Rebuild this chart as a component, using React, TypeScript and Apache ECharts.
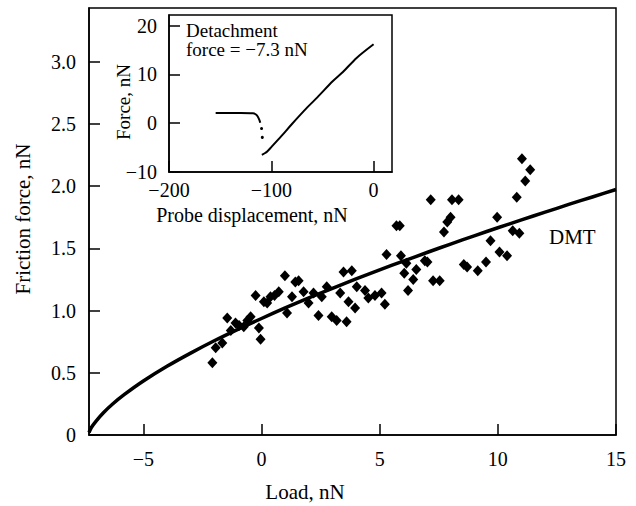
import React, { useEffect, useRef } from "react";
import * as echarts from "echarts";

// Main plot: friction force vs load (measured points)
const LOAD = [
  -2.08, -1.94, -1.66, -1.45, -1.3, -1.1, -0.95, -0.75, -0.6, -0.46, -0.25, -0.11, -0.04, 0.1, 0.24, 0.38,
  0.55, 0.73, 0.99, 1.08, 1.29, 1.43, 1.57, 1.78, 1.99, 2.2, 2.41, 2.55, 2.76, 2.97, 3.18, 3.33, 3.47, 3.6,
  3.68, 3.82, 3.96, 4.03, 4.38, 4.52, 4.8, 5.08, 5.22, 5.29, 5.71, 5.85, 5.9, 6.04, 6.13, 6.2, 6.42, 6.55,
  6.91, 7.02, 7.16, 7.26, 7.54, 7.72, 7.86, 8.0, 8.06, 8.34, 8.56, 8.7, 9.15, 9.5, 9.69, 9.97, 10.07, 10.39,
  10.63, 10.8, 10.91, 11.02, 11.16, 11.37,
];
const FRICTION = [
  0.58, 0.7, 0.74, 0.94, 0.84, 0.9, 0.88, 0.87, 0.92, 0.95, 1.12, 0.86, 0.77, 1.07, 1.06, 1.11,
  1.12, 1.15, 1.28, 0.98, 1.11, 1.23, 1.24, 1.15, 1.06, 1.14, 0.96, 1.11, 1.19, 0.95, 0.92, 1.14, 1.31, 0.91,
  1.07, 1.32, 1.02, 1.19, 1.16, 1.1, 1.12, 1.14, 1.05, 1.45, 1.68, 1.68, 1.44, 1.3, 1.38, 1.16, 1.25, 1.33,
  1.4, 1.39, 1.89, 1.24, 1.24, 1.63, 1.71, 1.75, 1.89, 1.89, 1.37, 1.35, 1.32, 1.39, 1.56, 1.75, 1.47, 1.44,
  1.64, 1.91, 1.62, 2.22, 2.04, 2.13,
];

// DMT curve
const DMT_LOAD = [-7.3, -7.2, -7.0, -6.7, -6.3, -5.8, -5, -4, -3, -2, -1, 0, 1, 2, 3, 4, 5, 6, 7, 8, 9, 10, 11, 12, 13, 14, 15];
const DMT_FORCE = [0.02, 0.06, 0.112, 0.177, 0.249, 0.326, 0.434, 0.552, 0.658, 0.757, 0.849, 0.936, 1.021, 1.101, 1.178, 1.254, 1.327, 1.397, 1.466, 1.534, 1.6, 1.665, 1.728, 1.79, 1.852, 1.912, 1.972];

// Inset: force-displacement curve
const APPROACH_X = [-154.4, -130, -118, -115, -113, -111.5, -110.8];
const APPROACH_Y = [2.1, 2.1, 2.05, 1.8, 1.3, 0.6, 0.1];
const JUMP_X = [-109.5, -108.8];
const JUMP_Y = [-1.1, -2.9];
const RETRACT_X = [-109.2, -106, -104, -100, -90, -80, -64.6, -55, -40, -30, -16.6, 0];
const RETRACT_Y = [-6.5, -6.1, -5.8, -4.9, -2.6, -0.2, 3.3, 5.3, 8.6, 10.5, 13.4, 16.2];

const MAIN_X_TICKS = [-5, 0, 5, 10, 15];
const MAIN_Y_TICKS = [0, 0.5, 1.0, 1.5, 2.0, 2.5, 3.0];
const INSET_X_TICKS = [-200, -100, 0];
const INSET_Y_TICKS = [-10, 0, 10, 20];

const FONT = '"Liberation Serif", "Times New Roman", serif';

const zip = (a: number[], b: number[]) => a.map((v, i) => [v, b[i]]);
const fmtInt = (v: number) => (v < 0 ? "\u2212" + Math.abs(v) : String(v));
const fmtDec = (v: number) => (v === 0 ? "0" : v.toFixed(1));

const axisCommon = (ticks: number[], fmt: (v: number) => string, margin: number, gridIndex: number) => ({
  type: "value" as const,
  gridIndex,
  axisLine: { show: true, onZero: false, lineStyle: { color: "#000", width: 1.5 } },
  axisTick: { show: true, inside: true, length: 11, customValues: ticks, lineStyle: { color: "#000", width: 1.5 } },
  axisLabel: { customValues: ticks, formatter: fmt, margin, fontSize: 20, fontFamily: FONT, color: "#000" },
  splitLine: { show: false },
});

export default function App() {
  const ref = useRef<HTMLDivElement>(null);
  useEffect(() => {
    if (!ref.current) return;
    const chart = echarts.init(ref.current, null, { renderer: "svg" });
    chart.setOption({
      animation: false,
      backgroundColor: "#fff",
      grid: [
        { left: 89, top: 8, width: 527, height: 427, show: true, borderColor: "#000", borderWidth: 1.5, backgroundColor: "transparent" },
        { left: 169, top: 15, width: 223, height: 157, show: true, borderColor: "#000", borderWidth: 1.5, backgroundColor: "#fff" },
      ],
      xAxis: [
        { ...axisCommon(MAIN_X_TICKS, fmtInt, 14, 0), min: -7.3, max: 15 },
        { ...axisCommon(INSET_X_TICKS, fmtInt, 8, 1), min: -200, max: 18 },
      ],
      yAxis: [
        { ...axisCommon(MAIN_Y_TICKS, fmtDec, 13, 0), min: 0, max: 3.43 },
        { ...axisCommon(INSET_Y_TICKS, fmtInt, 12, 1), min: -10, max: 22.2 },
      ],
      series: [
        {
          type: "line",
          xAxisIndex: 0,
          yAxisIndex: 0,
          data: zip(DMT_LOAD, DMT_FORCE),
          showSymbol: false,
          smooth: 0.2,
          clip: true,
          lineStyle: { color: "#000", width: 3.5 },
          z: 3,
        },
        {
          type: "scatter",
          xAxisIndex: 0,
          yAxisIndex: 0,
          data: zip(LOAD, FRICTION),
          symbol: "diamond",
          symbolSize: [10, 11],
          itemStyle: { color: "#000", opacity: 1 },
          z: 4,
        },
        {
          type: "line",
          xAxisIndex: 1,
          yAxisIndex: 1,
          data: zip(APPROACH_X, APPROACH_Y),
          showSymbol: false,
          smooth: 0.3,
          lineStyle: { color: "#000", width: 2 },
        },
        {
          type: "scatter",
          xAxisIndex: 1,
          yAxisIndex: 1,
          data: zip(JUMP_X, JUMP_Y),
          symbol: "circle",
          symbolSize: 3,
          itemStyle: { color: "#000", opacity: 1 },
        },
        {
          type: "line",
          xAxisIndex: 1,
          yAxisIndex: 1,
          data: zip(RETRACT_X, RETRACT_Y),
          showSymbol: false,
          smooth: 0.3,
          lineStyle: { color: "#000", width: 2 },
        },
      ],
      graphic: [
        {
          type: "text",
          x: 23,
          y: 219,
          rotation: Math.PI / 2,
          style: { text: "Friction force, nN", font: `21px ${FONT}`, fill: "#000", align: "center", verticalAlign: "middle" },
        },
        {
          type: "text",
          x: 305,
          y: 492,
          style: { text: "Load, nN", font: `21px ${FONT}`, fill: "#000", align: "center", verticalAlign: "middle" },
        },
        {
          type: "text",
          x: 123,
          y: 102,
          rotation: Math.PI / 2,
          style: { text: "Force, nN", font: `19px ${FONT}`, fill: "#000", align: "center", verticalAlign: "middle" },
        },
        {
          type: "text",
          x: 252,
          y: 215,
          style: { text: "Probe displacement, nN", font: `20px ${FONT}`, fill: "#000", align: "center", verticalAlign: "middle" },
        },
        {
          type: "text",
          x: 186,
          y: 40,
          z: 10,
          style: {
            text: "Detachment\nforce = \u22127.3 nN",
            font: `19px ${FONT}`,
            lineHeight: 19.5,
            fill: "#000",
            align: "left",
            verticalAlign: "middle",
          },
        },
        {
          type: "text",
          x: 549,
          y: 237,
          style: { text: "DMT", font: `21px ${FONT}`, fill: "#000", align: "left", verticalAlign: "middle" },
        },
      ],
    });
    return () => chart.dispose();
  }, []);
  return <div ref={ref} style={{ position: "fixed", left: 0, top: 0, width: 636, height: 506 }} />;
}
